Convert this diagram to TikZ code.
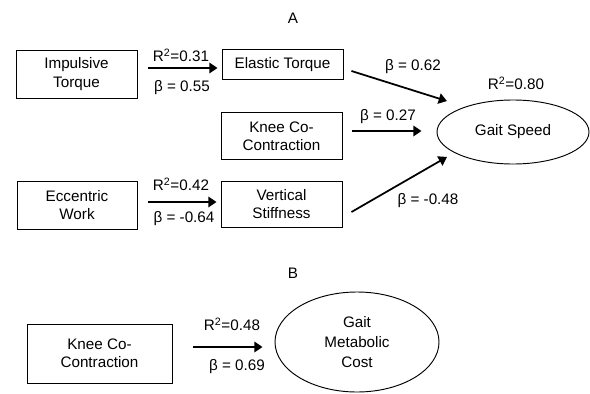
\documentclass[tikz,border=0pt]{standalone}
\usepackage{fontspec}
\setmainfont{Liberation Sans}
\usetikzlibrary{arrows.meta,positioning,shapes.geometric}

\tikzset{
  var/.style={rectangle, draw=black, line width=0.8pt, align=center, inner sep=2pt},
  outcome/.style={ellipse, draw=black, line width=0.8pt, align=center, inner sep=0pt},
  pathto/.style={-{Triangle[length=7pt,width=9pt]}, line width=1.5pt},
  coef/.style={inner sep=0pt}
}

\begin{document}
\begin{tikzpicture}[x=0.03cm,y=-0.03cm]
\tikzstyle{every node}=[font=\fontsize{13}{15.5}\selectfont]
\useasboundingbox (0,0) rectangle (590,393);

% panel A
\node at (293,18) (panelA) {A};

\node[var, minimum width=3.63cm, minimum height=1.44cm] at (76.5,74) (imp) {Impulsive\\Torque};
\node[var, minimum width=3.6cm, minimum height=1.44cm] at (77,205) (ecc) {Eccentric\\Work};

\node[var, minimum width=3.63cm, minimum height=0.885cm] at (282.5,64.5) (ela) {Elastic Torque};
\node[var, minimum width=3.63cm, minimum height=1.43cm] at (281.5,136) (kneeA) {Knee Co-\\Contraction};
\node[var, minimum width=3.63cm, minimum height=1.38cm] at (281.5,204) (vstiff) {Vertical\\Stiffness};

\node[outcome, minimum width=4.56cm, minimum height=1.92cm] at (513,132) (speed) {Gait Speed};

\draw[pathto] ([shift={(11,-6)}]imp.east) -- ([shift={(-4,-6)}]imp.east -| ela.west);
\draw[pathto] ([shift={(11,-3)}]ecc.east) -- ([shift={(-4,-3)}]ecc.east -| vstiff.west);
\draw[pathto] ([shift={(8,6.5)}]ela.east) -- ([shift={(-12,-8)}]speed.north west);
\draw[pathto] ([shift={(10,-5)}]kneeA.east) -- ([shift={(-15,-5)}]kneeA.east -| speed.west);
\draw[pathto] ([shift={(9,8)}]vstiff.east) -- ([shift={(-12,2)}]speed.south west);

\node[coef] at (181,55) (r2imp) {R\textsuperscript{2}=0.31};
\node[coef] at (182,88) (bimp) {β = 0.55};
\node[coef] at (181,184) (r2ecc) {R\textsuperscript{2}=0.42};
\node[coef] at (184,219) (becc) {β = -0.64};
\node[coef] at (413,67) (bela) {β = 0.62};
\node[coef] at (388,117) (bknee) {β = 0.27};
\node[coef] at (428,201) (bvs) {β = -0.48};
\node[coef] at (516,83) (r2speed) {R\textsuperscript{2}=0.80};

% panel B
\node at (293,273) (panelB) {B};

\node[var, minimum width=4.35cm, minimum height=1.77cm] at (99.5,353.5) (kneeB) {Knee Co-\\Contraction};
\node[outcome, minimum width=4.92cm, minimum height=3cm] at (357,342) (metab) {Gait\\[1.5pt]Metabolic\\[1.5pt]Cost};

\draw[pathto] ([shift={(21,-6.5)}]kneeB.east) -- ([shift={(-12,-6.5)}]kneeB.east -| metab.west);

\node[coef] at (232,324) (r2met) {R\textsuperscript{2}=0.48};
\node[coef] at (237,367) (bmet) {β = 0.69};

\end{tikzpicture}
\end{document}
